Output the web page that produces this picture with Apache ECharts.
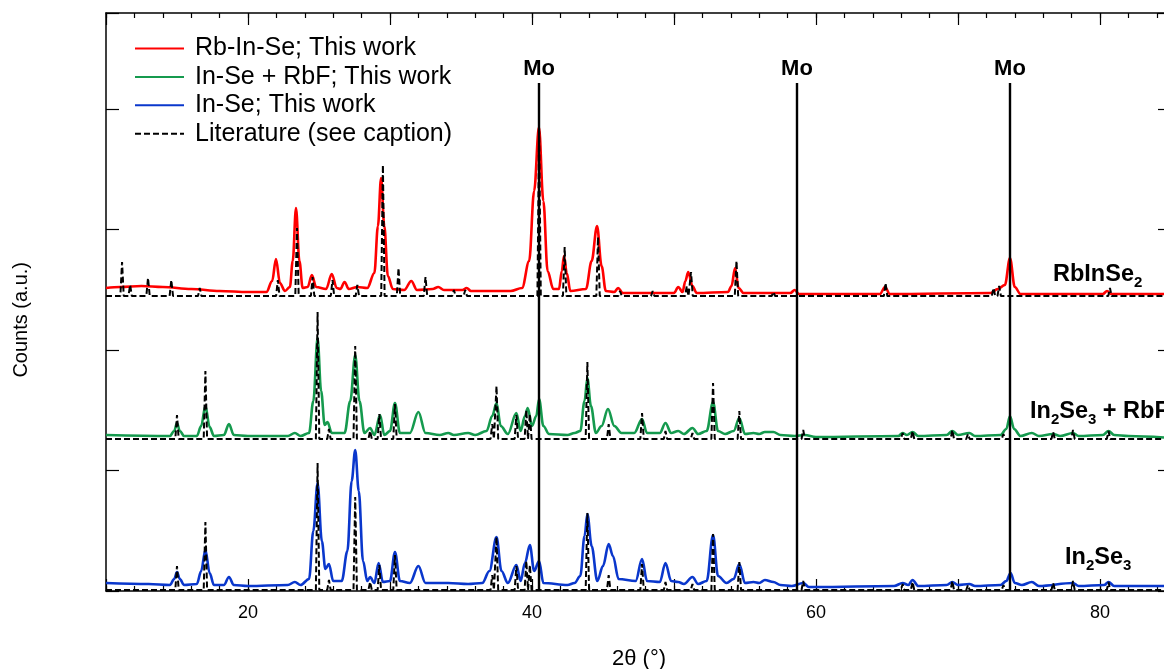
<!DOCTYPE html>
<html><head><meta charset="utf-8">
<script src="https://cdn.jsdelivr.net/npm/echarts@6/dist/echarts.min.js"></script>
<style>html,body{margin:0;padding:0;background:#fff}#c{width:1164px;height:669px}</style>
</head><body><div id="c"></div>
<script>
// 2theta (deg), intensity (offset display units)
const redData = [[10,303],[11,304],[12.5,305],[14,304],[16,302],[18,300],[20,299],[21.3,299],[21.7,310],[21.97,332],[22.25,308],[22.6,300],[22.95,304],[23.15,330],[23.38,383],[23.62,330],[23.85,303],[24.2,304],[24.5,316],[24.8,304],[25.5,302],[25.9,317],[26.25,303],[26.5,302],[26.8,309],[27.1,302],[27.7,304],[28.4,303],[28.9,318],[29.15,365],[29.37,413],[29.6,365],[29.85,315],[30.2,302],[31.0,301],[31.5,310],[31.9,301],[33.0,302],[33.4,304],[33.8,301],[35.1,301],[35.4,303],[35.7,300],[38.5,300],[39.3,303],[39.8,330],[40.15,400],[40.49,464],[40.8,390],[41.1,320],[41.5,302],[41.9,302],[42.1,320],[42.25,335],[42.45,318],[42.7,300],[43.8,302],[44.2,330],[44.58,365],[44.9,325],[45.2,300],[45.8,299],[46.06,303],[46.4,298],[50.0,298],[50.3,304],[50.6,299],[50.8,310],[51.0,319],[51.3,305],[51.6,298],[53.8,299],[54.05,305],[54.3,323],[54.55,303],[54.9,298],[58.2,298],[58.5,301],[58.8,297],[64.5,297],[64.86,304],[65.2,297],[72.3,298],[72.8,302],[73.3,306],[73.66,333],[74.0,304],[74.4,297],[80.2,297],[80.5,300],[80.8,297],[85,297]];

const greenData = [[10,156],[14.5,155],[14.8,160],[15.0,168],[15.2,160],[15.5,155],[16.4,155],[16.7,165],[17.0,185],[17.3,164],[17.6,155],[18.3,156],[18.66,167],[19.0,156],[20,155],[22.8,155],[23.3,158],[23.7,155],[24.3,158],[24.6,190],[24.9,253],[25.15,200],[25.4,166],[25.6,169],[25.9,158],[26.8,158],[27.2,190],[27.55,236],[27.85,190],[28.2,158],[28.6,163],[28.9,156],[29.3,176],[29.6,156],[30.0,160],[30.35,188],[30.7,158],[31.4,158],[32.0,179],[32.5,158],[33.5,156],[34.1,158],[34.5,156],[35.5,158],[36.0,156],[36.8,160],[37.2,175],[37.5,188],[37.8,165],[38.3,157],[38.9,178],[39.2,160],[39.5,175],[39.7,183],[40.0,165],[40.3,175],[40.5,192],[40.8,165],[41.2,157],[42.5,156],[43.0,158],[43.4,160],[43.7,190],[43.9,213],[44.15,185],[44.5,158],[44.9,165],[45.35,182],[45.8,165],[46.3,158],[47.2,158],[47.75,172],[48.1,158],[49.0,158],[49.4,168],[49.8,158],[50.3,160],[50.7,157],[51.3,163],[51.7,157],[52.3,160],[52.75,189],[53.1,160],[53.6,157],[54.2,160],[54.6,173],[55.0,157],[55.6,158],[56.0,157],[56.4,159],[57.0,159],[57.5,156],[58.5,155],[59.2,156],[60,154],[65.8,155],[66.1,158],[66.4,156],[66.8,159],[67.2,155],[69.2,156],[69.6,160],[70.0,156],[70.8,158],[71.2,155],[73.0,156],[73.4,162],[73.66,175],[73.95,162],[74.4,155],[75.2,158],[75.7,155],[76.7,157],[77.2,155],[78.1,158],[78.5,155],[80.2,156],[80.6,160],[81.0,156],[82,155],[85,153]];

const blueData = [[10,8],[13,7],[14.5,6],[14.8,12],[15.0,19],[15.2,12],[15.5,6],[16.4,7],[16.7,20],[17.0,41],[17.3,18],[17.6,6],[18.3,6],[18.66,14],[19.0,6],[20,5],[22.8,6],[23.3,9],[23.7,6],[24.3,12],[24.6,60],[24.9,108],[25.2,50],[25.45,22],[25.7,27],[26.0,10],[26.6,10],[27.0,40],[27.3,110],[27.55,141],[27.8,100],[28.1,30],[28.4,10],[28.6,14],[28.9,8],[29.2,28],[29.5,9],[30.0,10],[30.35,39],[30.7,10],[31.4,8],[32.0,25],[32.5,8],[34.1,8],[35.5,7],[36.5,8],[37.0,20],[37.5,54],[37.85,20],[38.3,8],[38.9,26],[39.2,10],[39.5,28],[39.85,46],[40.15,20],[40.5,30],[40.8,8],[42.5,6],[43.0,8],[43.4,15],[43.7,55],[43.9,77],[44.2,45],[44.6,10],[45.0,25],[45.4,47],[45.7,35],[46.1,12],[47.3,10],[47.75,32],[48.1,10],[49.0,9],[49.4,28],[49.8,10],[50.3,9],[50.7,7],[51.3,14],[51.7,7],[52.3,10],[52.75,56],[53.1,15],[53.7,8],[54.2,12],[54.6,27],[55.0,8],[55.6,9],[56.0,8],[56.4,11],[57.0,9],[57.5,6],[58.3,5],[59.1,8],[59.5,4],[60,4],[65.5,5],[66.1,8],[66.5,6],[66.8,11],[67.2,5],[69.2,6],[69.6,9],[70.0,6],[70.8,7],[71.2,5],[73.0,6],[73.4,10],[73.7,18],[74.0,8],[74.5,6],[75.2,9],[75.7,5],[78.1,8],[78.5,5],[80.3,6],[80.6,9],[81.0,5],[82,5],[85,5]];

// literature reflections: [2theta, height above trace baseline]
const litRbInSe2 = [[11.13,34],[11.7,11],[12.96,18],[14.6,16],[16.6,8],[22.1,16],[23.45,68],[24.55,19],[25.95,16],[27.7,11],[29.5,131],[30.6,28],[32.5,19],[34.5,6],[35.3,6],[40.5,165],[42.3,49],[44.65,59],[46.2,5],[48.5,5],[50.9,10],[51.2,24],[54.4,35],[57.0,4],[64.9,13],[72.5,8],[72.9,10],[80.7,8]];
const litIn2Se3 = [[15.0,24],[17.0,68],[24.9,127],[25.7,10],[27.55,93],[28.6,8],[29.25,25],[30.35,35],[37.2,15],[37.5,53],[38.9,24],[39.6,29],[39.85,25],[43.9,77],[45.4,15],[47.75,26],[49.4,8],[51.3,6],[52.75,56],[54.6,28],[59.1,9],[66.1,6],[66.8,8],[69.6,9],[70.7,5],[73.2,5],[76.7,7],[78.1,9],[80.6,8]];
const litBaselines = {red: 295, green: 152, blue: 1};
const moPositions = [40.5, 58.66, 73.66];
const moTop = 508;

const seriesNames = ['Rb-In-Se; This work', 'In-Se + RbF; This work', 'In-Se; This work', 'Literature (see caption)'];
const colors = ['#ff0000', '#159a4e', '#0a37cc', '#000000'];

function sticks(list, base) {
  const out = [[10, base]];
  list.forEach(([p, h]) => { out.push([p - 0.12, base], [p, base + h], [p + 0.12, base]); });
  out.push([85, base]);
  return out;
}

const font = 'Liberation Sans, Arial, sans-serif';
const chart = echarts.init(document.getElementById('c'), null, {renderer: 'canvas'});

function xAx(pos, interval, len, labels, line) {
  return {
    type: 'value', position: pos, min: 10, max: 85, interval: interval,
    axisLine: {show: line, onZero: false, lineStyle: {color: '#000', width: 1.5}},
    axisTick: {show: true, inside: true, length: len, lineStyle: {color: '#000', width: 1.2}},
    axisLabel: {show: labels, margin: 13, fontSize: 18, color: '#000', fontFamily: font,
      formatter: v => (v % 20 === 0 ? String(v) : '')},
    splitLine: {show: false}
  };
}
function yAx(pos) {
  return {
    type: 'value', position: pos, min: 0, max: 578, interval: 120.5,
    axisLine: {show: true, onZero: false, lineStyle: {color: '#000', width: 1.5}},
    axisTick: {show: true, inside: true, length: 13, lineStyle: {color: '#000', width: 1.2}},
    axisLabel: {show: false}, splitLine: {show: false}
  };
}
const lineBase = {type: 'line', symbol: 'none', showSymbol: false, animation: false, silent: true, xAxisIndex: 0, yAxisIndex: 0};
const expBase = Object.assign({}, lineBase, {smooth: 0.35, smoothMonotone: 'x'});
const sub = {fontSize: 15, fontWeight: 'bold', fontFamily: font, lineHeight: 15, padding: [16, 0, 0, 0]};
const main = {fontSize: 23.5, fontWeight: 'bold', fontFamily: font, lineHeight: 23};

const option = {
  animation: false,
  backgroundColor: '#fff',
  grid: {left: 106, top: 13, width: 1065, height: 578, containLabel: false, outerBoundsMode: 'none'},
  xAxis: [xAx('bottom', 10, 12, true, true), xAx('top', 10, 12, false, true), xAx('bottom', 2, 5, false, false), xAx('top', 2, 5, false, false)],
  yAxis: [yAx('left'), yAx('right')],
  legend: {
    data: seriesNames, orient: 'vertical', left: 129, top: 31, itemWidth: 49, itemHeight: 14, itemGap: 3.4,
    itemStyle: {opacity: 0},
    textStyle: {fontSize: 25, color: '#000', fontFamily: font, lineHeight: 22, padding: [0, 0, 0, 6]}
  },
  series: [
    Object.assign({}, expBase, {name: seriesNames[0], data: redData, color: colors[0], lineStyle: {width: 2.6, color: colors[0]}}),
    Object.assign({}, expBase, {name: seriesNames[1], data: greenData, color: colors[1], lineStyle: {width: 2.6, color: colors[1]}}),
    Object.assign({}, expBase, {name: seriesNames[2], data: blueData, color: colors[2], lineStyle: {width: 2.6, color: colors[2]}}),
    Object.assign({}, lineBase, {name: seriesNames[3], data: sticks(litRbInSe2, litBaselines.red), color: colors[3], lineStyle: {width: 2, color: '#000', type: [6, 3]}}),
    Object.assign({}, lineBase, {name: seriesNames[3], data: sticks(litIn2Se3, litBaselines.green), color: colors[3], lineStyle: {width: 2, color: '#000', type: [6, 3]}}),
    Object.assign({}, lineBase, {name: seriesNames[3], data: sticks(litIn2Se3, litBaselines.blue), color: colors[3], lineStyle: {width: 2, color: '#000', type: [6, 3]}}),
    Object.assign({}, lineBase, {name: 'Mo', data: [], z: 5,
      markLine: {silent: true, symbol: ['none', 'none'], animation: false,
        lineStyle: {color: '#000', width: 2.4, type: 'solid'},
        label: {show: true, position: 'end', formatter: 'Mo', fontSize: 22, fontWeight: 'bold', color: '#000', fontFamily: font, distance: 3},
        data: moPositions.map(p => [{coord: [p, 0]}, {coord: [p, moTop]}])}})
  ],
  graphic: [
    {type: 'text', left: 1053, top: 259, style: {text: '{b|RbInSe}{s|2}', fill: '#000', rich: {b: main, s: sub}}},
    {type: 'text', left: 1030, top: 396, style: {text: '{b|In}{s|2}{b|Se}{s|3}{b| + RbF}', fill: '#000', rich: {b: main, s: sub}}},
    {type: 'text', left: 1065, top: 542, style: {text: '{b|In}{s|2}{b|Se}{s|3}', fill: '#000', rich: {b: main, s: sub}}},
    {type: 'text', left: 11, top: 262, rotation: Math.PI / 2, style: {text: 'Counts (a.u.)', fill: '#000', fontSize: 20, fontFamily: font, align: 'center', verticalAlign: 'middle'}},
    {type: 'text', left: 612, top: 648, style: {text: '2θ (°)', fill: '#000', fontSize: 22, fontFamily: font}}
  ]
};
chart.setOption(option);
</script></body></html>
